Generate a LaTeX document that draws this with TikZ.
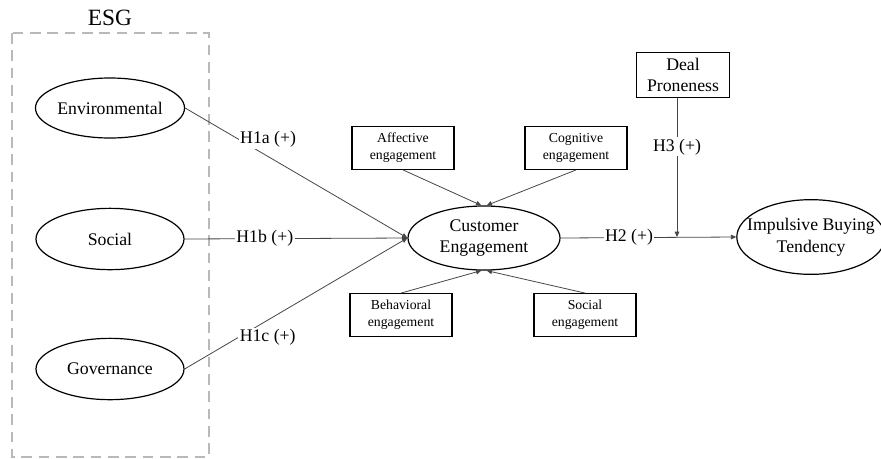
\documentclass[tikz,border=0pt]{standalone}
\usepackage{fontspec}
\setmainfont{Liberation Serif}
\usetikzlibrary{arrows.meta, shapes}
\usepackage{xcolor}
\definecolor{linegray}{RGB}{70,70,70}
\definecolor{esggray}{RGB}{185,185,185}
\tikzset{latentnode/.style={ellipse, draw=black, line width=0.9pt, inner sep=0pt, align=center, font=\fontsize{13.3}{16.3}\selectfont},
dimnode/.style={rectangle, draw=black, line width=0.9pt, inner sep=0pt, minimum width=76.5pt, minimum height=32pt, align=center, font=\fontsize{10.3}{12.8}\selectfont}}

\begin{document}
\begin{tikzpicture}[
        x=0.75pt, y=-0.75pt,
        pathline/.style={draw=linegray, line width=0.6pt, -{Triangle[length=4pt, width=3.5pt]}},
        pathlabel/.style={fill=white, inner sep=1pt, text=black, font=\fontsize{13.3}{16}\selectfont}
    ]
        \useasboundingbox (0, 0) rectangle (881, 458);
        % ESG group
        \draw[esggray, line width=2pt, dash pattern=on 8pt off 5pt] (12, 33) rectangle (209, 457);
        \node (esg) at (110, 18) {\fontsize{17.5}{20}\selectfont ESG};
        % Latent variables
        \node[latentnode, minimum width=111pt, minimum height=45pt] (env) at (110, 108) {Environmental};
        \node[latentnode, minimum width=111pt, minimum height=46pt] (soc) at (110, 239) {Social};
        \node[latentnode, minimum width=111pt, minimum height=46pt] (gov) at (110, 369) {Governance};
        \node[latentnode, minimum width=114pt, minimum height=48pt] (ce) at (484, 238) {Customer\\Engagement};
        \node[latentnode, inner xsep=-8.5pt, minimum width=106.5pt, minimum height=56pt] (ibt) at (811, 237) {Impulsive Buying\\Tendency};
        % Dimensions
        \node[dimnode] (aff) at (403, 148) {Affective\\engagement};
        \node[dimnode] (cog) at (576, 148) {Cognitive\\engagement};
        \node[dimnode] (beh) at (401, 315) {Behavioral\\engagement};
        \node[dimnode] (seng) at (585, 315) {Social\\engagement};
        \node[dimnode, minimum width=70pt, minimum height=34pt, font=\fontsize{13.3}{16}\selectfont] (deal) at (683, 75) {Deal\\Proneness};
        \coordinate (mod) at (677, 237);
        % Paths
        \draw[pathline] (env.east) -- node[pathlabel, pos=0.24, anchor=west] {H1a (+)} (ce.west);
        \draw[pathline] (soc.east) -- node[pathlabel, pos=0.36] {H1b (+)} (ce.west);
        \draw[pathline] (gov.east) -- node[pathlabel, pos=0.24, anchor=west] {H1c (+)} (ce.west);
        \draw[pathline] (aff.south) -- ([xshift=-2pt]ce.north);
        \draw[pathline] (cog.south) -- ([xshift=2pt]ce.north);
        \draw[pathline] (beh.north) -- ([xshift=-2pt]ce.south);
        \draw[pathline] (seng.north) -- ([xshift=2pt]ce.south);
        \draw[pathline] (ce.east) -- node[pathlabel, pos=0.39] {H2 (+)} (ibt.west);
        \draw[pathline] (deal.south -| mod) -- node[pathlabel, pos=0.35] {H3 (+)} (mod);
    \end{tikzpicture}
\end{document}
